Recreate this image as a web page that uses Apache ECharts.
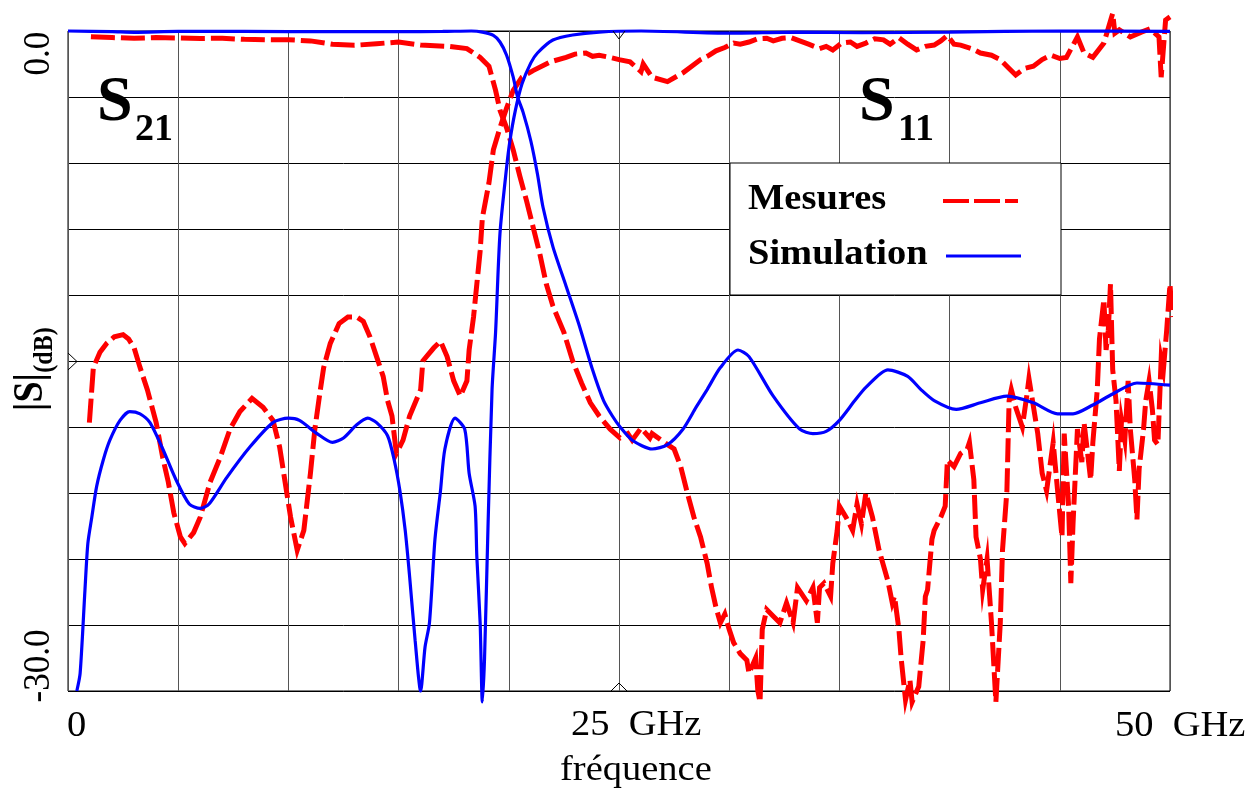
<!DOCTYPE html>
<html>
<head>
<meta charset="utf-8">
<title>S21 / S11</title>
<script src="https://cdn.jsdelivr.net/npm/echarts@6/dist/echarts.min.js"></script>
<style>
  html, body { margin: 0; padding: 0; background: #fff; }
  #main { width: 1259px; height: 791px; }
</style>
</head>
<body>
<div id="main"></div>
<script>
// axis ticks / labels
var xTickLabels = ['0', '25  GHz', '50  GHz'];
var yTickLabels = ['0.0', '-30.0'];
var legendNames = ['Mesures', 'Simulation'];

// simulation, transmission (0 dB in the band, then drops)        [GHz, dB]
var s21Sim = [[0,0],[2,-0.03],[3,-0.06],[5,-0.02],[8,-0.02],[12,-0.03],[15,-0.03],[17,-0.02],[18.3,0],
  [18.8,-0.05],[19.3,-0.2],[19.6,-0.5],[19.9,-1.1],[20.2,-2.1],[20.4,-3.0],[20.65,-3.7],[21.0,-5.0],
  [21.3,-6.5],[21.55,-8.0],[22.0,-9.8],[22.6,-11.6],[23.2,-13.4],[23.8,-15.4],[24.3,-16.8],[24.7,-17.5],
  [25.05,-18.0],[25.6,-18.6],[26.5,-19.0],[27.2,-18.8],[27.9,-18.1],[28.5,-17.1],[29.0,-16.3],[29.6,-15.3],
  [30.4,-14.5],[30.9,-14.8],[32.0,-16.6],[33.2,-18.1],[33.8,-18.3],[34.4,-18.2],[35.0,-17.7],[35.7,-16.8],
  [36.2,-16.2],[37.2,-15.4],[38.1,-15.7],[38.7,-16.3],[39.3,-16.8],[40.3,-17.2],[41.4,-16.9],[42.6,-16.6],
  [43.8,-16.9],[44.9,-17.4],[45.6,-17.4],[46.5,-17.0],[47.4,-16.5],[48.5,-16.0],[50,-16.1]];

// simulation, reflection (ripple at low freq, then 0 dB)
var s11Sim = [[0.4,-30],[0.55,-29.2],[0.77,-25.4],[0.9,-23.3],[1.08,-22.1],[1.3,-20.7],[1.6,-19.5],
  [1.9,-18.6],[2.36,-17.7],[2.8,-17.3],[3.27,-17.4],[3.72,-17.8],[4.3,-19.0],[4.9,-20.4],[5.5,-21.5],
  [6.0,-21.7],[6.4,-21.5],[7.2,-20.3],[8.26,-18.9],[9.3,-17.8],[10.0,-17.6],[10.5,-17.7],[11.3,-18.3],
  [12.0,-18.7],[12.5,-18.5],[13.1,-17.9],[13.6,-17.6],[14.0,-17.8],[14.5,-18.4],[14.8,-19.5],[15.06,-20.9],
  [15.3,-22.7],[15.5,-24.8],[15.75,-27.7],[16.0,-30],[16.2,-28],[16.4,-26.9],[16.65,-23.1],[16.9,-20.9],
  [17.1,-19.0],[17.56,-17.6],[18.0,-18.1],[18.2,-20.1],[18.47,-21.6],[18.55,-23.9],[18.7,-26.9],[18.8,-30.5],
  [18.9,-28.5],[19.06,-22.4],[19.24,-16.3],[19.4,-13.7],[19.6,-9.2],[19.9,-6.2],[20.05,-5.0],[20.3,-3.6],
  [20.6,-2.4],[21.0,-1.45],[21.3,-1.0],[22.0,-0.41],[22.9,-0.18],[24.1,-0.05],[26,0],[30,-0.1],[33,-0.05],
  [36,-0.08],[40,-0.05],[45,0],[50,-0.02]];

// measured, transmission
var s21Meas = [[1.04,-0.26],[2,-0.3],[3,-0.33],[4,-0.3],[5,-0.32],[6,-0.34],[7,-0.33],[8,-0.38],[9,-0.4],
  [10,-0.4],[11,-0.45],[12,-0.6],[13,-0.65],[14,-0.58],[15,-0.5],[16,-0.64],[17.3,-0.7],[18.1,-0.8],
  [18.7,-1.2],[19.1,-1.6],[19.4,-2.7],[19.6,-3.6],[19.9,-4.4],[20.2,-5.4],[20.5,-6.6],[20.8,-7.7],[21.1,-8.9],
  [21.4,-10.1],[21.7,-11.5],[22.0,-12.5],[22.5,-13.7],[22.9,-15.0],[23.3,-16.0],[23.7,-16.9],[24.1,-17.5],
  [24.6,-18.1],[25.05,-18.5],[25.4,-18.3],[25.6,-18.6],[26.0,-18.05],[26.4,-18.5],[26.5,-18.3],[27.2,-18.8],
  [27.5,-19.0],[27.8,-19.8],[28.1,-21.0],[28.4,-22.1],[28.7,-23.0],[29.0,-24.2],[29.2,-25.3],[29.4,-26.2],
  [29.6,-26.9],[29.8,-26.5],[30.0,-27.2],[30.2,-27.8],[30.5,-28.3],[30.8,-28.6],[30.9,-29.2],[31.2,-28.5],
  [31.3,-30],[31.4,-30.5],[31.5,-27.2],[31.7,-26.3],[32.0,-26.6],[32.3,-26.9],[32.6,-26.0],[32.9,-26.9],
  [33.1,-25.3],[33.5,-25.9],[33.8,-25.3],[34.0,-26.9],[34.1,-25.3],[34.3,-25.1],[34.6,-25.7],[34.7,-24.2],
  [34.9,-22.7],[35.0,-21.6],[35.3,-22.1],[35.6,-22.7],[35.8,-21.5],[36.0,-22.4],[36.2,-21.0],[36.5,-22.1],
  [36.8,-23.6],[37.2,-25.0],[37.4,-26.0],[37.5,-25.7],[37.7,-27.2],[37.8,-28.5],[38.0,-30.4],[38.2,-29.5],
  [38.3,-30.5],[38.6,-29.8],[38.8,-27.7],[38.9,-25.7],[39.0,-25.4],[39.2,-23.1],[39.3,-22.7],[39.6,-22.1],
  [39.8,-21.6],[39.9,-19.5],[40.2,-19.8],[40.5,-19.2],[40.8,-19.0],[40.9,-18.7],[41.1,-20.4],[41.2,-23.0],
  [41.4,-24.0],[41.5,-25.4],[41.7,-24.0],[41.9,-26.9],[42.1,-30.5],[42.3,-26.9],[42.4,-23.6],[42.6,-20.9],
  [42.7,-16.8],[42.8,-16.3],[43.0,-17.1],[43.3,-18.0],[43.5,-16.6],[43.6,-15.8],[44.0,-18.3],[44.2,-20.1],
  [44.4,-20.9],[44.7,-18.7],[44.9,-20.9],[45.1,-23.0],[45.2,-18.3],[45.4,-21.6],[45.5,-25.1],[45.6,-22.4],
  [45.8,-18.1],[46.0,-19.6],[46.1,-17.8],[46.4,-20.4],[46.5,-18.7],[46.7,-16.3],[46.8,-14.0],[47.0,-12.2],
  [47.1,-14.5],[47.2,-13.6],[47.3,-11.5],[47.4,-15.4],[47.55,-16.8],[47.7,-20.0],[47.8,-17.7],[47.95,-18.6],
  [48.1,-15.9],[48.2,-18.1],[48.4,-20.4],[48.5,-22.2],[48.6,-19.9],[48.8,-18.1],[48.9,-16.8],[49.05,-15.9],
  [49.2,-17.2],[49.3,-18.6],[49.45,-18.8],[49.6,-14.9],[49.7,-15.4],[49.85,-13.6],[50.0,-11.5],[50.1,-13.0]];

// measured, reflection
var s11Meas = [[0.97,-17.8],[1.15,-15.3],[1.45,-14.6],[1.75,-14.2],[2.1,-13.9],[2.5,-13.8],[2.75,-14.0],
  [3.0,-14.4],[3.27,-15.3],[3.6,-16.3],[4.0,-17.8],[4.3,-19.4],[4.55,-20.5],[4.8,-21.9],[5.1,-23.0],
  [5.3,-23.3],[5.7,-22.8],[6.0,-22.1],[6.45,-20.5],[6.9,-19.4],[7.35,-18.1],[7.8,-17.3],[8.35,-16.7],
  [8.85,-17.1],[9.3,-17.7],[9.6,-18.9],[9.85,-20.5],[10.1,-22.1],[10.4,-23.6],[10.7,-22.7],[11.0,-20.1],
  [11.2,-18.1],[11.45,-16.3],[11.6,-15.3],[11.9,-14.2],[12.3,-13.3],[12.7,-13.0],[13.1,-13.0],[13.4,-13.2],
  [13.7,-13.9],[14.0,-14.8],[14.3,-15.7],[14.5,-16.8],[14.7,-17.5],[14.9,-19.2],[15.2,-18.6],[15.5,-17.5],
  [16.0,-16.3],[16.1,-15.0],[16.6,-14.4],[16.9,-14.1],[17.2,-14.8],[17.5,-15.9],[17.8,-16.6],[18.1,-15.9],
  [18.2,-14.5],[18.4,-13.0],[18.55,-11.5],[18.7,-10.0],[18.8,-8.5],[19.1,-6.9],[19.3,-5.4],[19.6,-4.4],
  [19.9,-3.5],[20.2,-2.7],[20.6,-2.1],[21.1,-1.8],[21.9,-1.4],[22.6,-1.2],[23.0,-1.05],[23.5,-1.0],
  [23.8,-1.15],[24.1,-1.1],[24.6,-1.2],[25.0,-1.3],[25.5,-1.4],[26.0,-1.85],[26.1,-1.5],[26.5,-2.1],
  [27.2,-2.3],[27.9,-1.9],[28.3,-1.6],[28.7,-1.3],[29.1,-1.1],[29.4,-0.9],[29.8,-0.75],[30.2,-0.55],
  [30.5,-0.6],[30.9,-0.5],[31.3,-0.35],[31.7,-0.33],[32.0,-0.45],[32.4,-0.33],[32.8,-0.3],[33.2,-0.45],
  [33.6,-0.6],[34.1,-0.8],[34.4,-0.7],[34.7,-0.86],[35.1,-0.55],[35.5,-0.5],[35.8,-0.7],[36.2,-0.55],
  [36.6,-0.35],[37.0,-0.4],[37.3,-0.6],[37.7,-0.3],[38.1,-0.6],[38.5,-0.86],[38.9,-0.7],[39.3,-0.64],
  [39.6,-0.45],[39.9,-0.2],[40.2,-0.6],[40.5,-0.64],[41.0,-0.8],[41.4,-1.0],[41.9,-1.1],[42.3,-1.3],
  [42.7,-1.7],[43.0,-2.0],[43.4,-1.7],[43.8,-1.6],[44.2,-1.3],[44.6,-1.1],[45.0,-1.25],[45.3,-1.2],
  [45.8,-0.27],[46.1,-1.0],[46.5,-1.2],[47.0,-0.55],[47.4,0.8],[47.5,-0.1],[47.7,0.05],[48.2,-0.27],
  [48.7,-0.05],[49.1,0.1],[49.5,-0.27],[49.6,-2.1],[49.8,0.5],[50.0,0.64]];

var SERIF = '"Liberation Serif", "DejaVu Serif", serif';
var RED = '#ff0000', BLUE = '#0000ff';

var chart = echarts.init(document.getElementById('main'));

function measLine(name, data) {
    return {
        name: name, type: 'line', data: data, symbol: 'none', clip: false,
        lineStyle: { color: RED, width: 5, type: [24, 6], cap: 'butt', join: 'miter' },
        z: 3
    };
}
function simLine(name, data) {
    return {
        name: name, type: 'line', data: data, symbol: 'none', clip: false,
        smooth: 0.25,
        lineStyle: { color: BLUE, width: 3.2 },
        z: 4
    };
}

// texte etire horizontalement comme dans l'original
function txt(str, x, y, font, sx) {
    return { type: 'text', x: x, y: y, scaleX: sx || 1, z: 50,
        style: { text: str, font: font, fill: '#000', textAlign: 'left', textVerticalAlign: 'middle' } };
}
function vtxt(str, x, y, font) {
    return { type: 'group', x: x, y: y, scaleX: 1.1, z: 50, children: [
        { type: 'text', rotation: Math.PI / 2, z: 50,
          style: { text: str, font: font, fill: '#000', textAlign: 'center', textVerticalAlign: 'middle' } }
    ]};
}

var option = {
    backgroundColor: '#fff',
    animation: false,
    grid: { left: 68, top: 31, width: 1102, height: 660, show: true,
        borderColor: '#000', borderWidth: 1, backgroundColor: 'transparent' },
    xAxis: {
        type: 'value', min: 0, max: 50, interval: 5,
        axisLine: { show: false }, axisTick: { show: false }, axisLabel: { show: false },
        splitLine: { show: true, lineStyle: { color: '#555', width: 1 } }
    },
    yAxis: {
        type: 'value', min: -30, max: 0, interval: 3,
        axisLine: { show: false }, axisTick: { show: false }, axisLabel: { show: false },
        splitLine: { show: true, lineStyle: { color: '#000', width: 1 } }
    },
    series: [
        measLine('S21 mesures', s21Meas),
        measLine('S11 mesures', s11Meas),
        simLine('S21 simulation', s21Sim),
        simLine('S11 simulation', s11Sim)
    ],
    graphic: [
        // cadre de legende
        { type: 'rect', z: 40, shape: { x: 730, y: 163, width: 331, height: 132 },
          style: { fill: '#fff', stroke: '#000', lineWidth: 1 } },
        txt(legendNames[0], 748, 200, 'bold 35px ' + SERIF, 1.1),
        txt(legendNames[1], 748, 255, 'bold 35px ' + SERIF, 1.1),
        { type: 'line', z: 50, shape: { x1: 943, y1: 201, x2: 1018, y2: 201 },
          style: { stroke: RED, lineWidth: 4, lineDash: [26, 5] } },
        { type: 'line', z: 50, shape: { x1: 946, y1: 256, x2: 1021, y2: 256 },
          style: { stroke: BLUE, lineWidth: 3 } },

        // S21 / S11
        txt('S', 97, 103, 'bold 64px ' + SERIF),
        txt('21', 135, 130, 'bold 38px ' + SERIF),
        txt('S', 859, 103, 'bold 64px ' + SERIF),
        txt('11', 898, 130, 'bold 38px ' + SERIF),

        // axe x
        txt(xTickLabels[0], 67, 727, '35px ' + SERIF, 1.1),
        txt(xTickLabels[1], 571, 726, '35px ' + SERIF, 1.1),
        txt(xTickLabels[2], 1115, 727, '35px ' + SERIF, 1.1),
        txt('fréquence', 560, 771, '35px ' + SERIF, 1.1),

        // axe y
        vtxt(yTickLabels[0], 38.5, 53.5, '35px ' + SERIF),
        vtxt(yTickLabels[1], 38.5, 666, '35px ' + SERIF),
        vtxt('|S|', 31, 392, 'bold 38px ' + SERIF),
        vtxt('(dB)', 45, 350, 'bold 24px ' + SERIF),

        // reperes milieu d'axe
        { type: 'polyline', z: 50, shape: { points: [[68, 353], [77, 361.5], [68, 370]] },
          style: { stroke: '#000', lineWidth: 1, fill: null } },
        { type: 'polyline', z: 50, shape: { points: [[613, 31], [619, 39], [625, 31]] },
          style: { stroke: '#000', lineWidth: 1, fill: null } },
        { type: 'polyline', z: 50, shape: { points: [[611, 691], [619, 683], [627, 691]] },
          style: { stroke: '#000', lineWidth: 1, fill: null } }
    ]
};

chart.setOption(option);
</script>
</body>
</html>
